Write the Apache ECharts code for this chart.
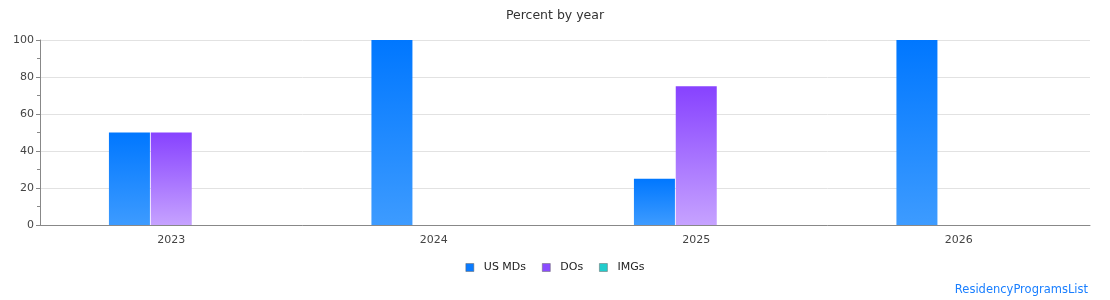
<!DOCTYPE html>
<html>
<head>
<meta charset="utf-8">
<script src="https://cdn.jsdelivr.net/npm/echarts@6/dist/echarts.min.js"></script>
<style>
  html, body { margin: 0; padding: 0; background: #fff; }
  #chart { width: 1110px; height: 300px; }
</style>
</head>
<body>
<div id="chart"></div>
<script>
var years = ['2023', '2024', '2025', '2026'];
var usMDs = [50, 100, 25, 100];
var dos = [50, 0, 75, 0];
var imgs = [0, 0, 0, 0];
var yTicks = [0, 20, 40, 60, 80, 100];

function grad(top, bottom) {
  return new echarts.graphic.LinearGradient(0, 0, 0, 1, [
    { offset: 0, color: top },
    { offset: 1, color: bottom }
  ]);
}

var chart = echarts.init(document.getElementById('chart'), null, { renderer: 'canvas' });
chart.setOption({
  animation: false,
  textStyle: { fontFamily: 'DejaVu Sans' },
  title: {
    text: 'Percent by year',
    left: 'center',
    top: 4,
    textStyle: { fontSize: 12.5, fontWeight: 'normal', color: '#333' }
  },
  graphic: [{
    type: 'text',
    right: 22,
    top: 284,
    style: { text: 'ResidencyProgramsList', fill: '#1a7fff', fontSize: 11.5, fontFamily: 'DejaVu Sans' }
  }],
  legend: {
    top: 257,
    left: 'center',
    itemWidth: 8,
    itemHeight: 8,
    itemGap: 16,
    icon: 'rect',
    textStyle: { fontSize: 11, color: '#222', padding: [0, 0, 0, 5] },
    data: [
      { name: 'US MDs', itemStyle: { color: '#0a7bff', borderColor: '#666', borderWidth: 0.5 } },
      { name: 'DOs', itemStyle: { color: '#8a4cff', borderColor: '#666', borderWidth: 0.5 } },
      { name: 'IMGs', itemStyle: { color: '#22cccc', borderColor: '#666', borderWidth: 0.5 } }
    ]
  },
  grid: { left: 40, right: 20, top: 40, bottom: 75 },
  xAxis: {
    type: 'category',
    data: years,
    axisLine: { lineStyle: { color: '#888' } },
    axisTick: { show: false },
    axisLabel: { color: '#444', fontSize: 11, margin: 10 }
  },
  yAxis: {
    type: 'value',
    min: yTicks[0],
    max: yTicks[yTicks.length - 1],
    interval: 20,
    axisLine: { show: true, lineStyle: { color: '#888' } },
    axisTick: { show: true, length: 4, lineStyle: { color: '#888' } },
    minorTick: { show: true, splitNumber: 2, length: 3, lineStyle: { color: '#888' } },
    axisLabel: { color: '#444', fontSize: 11, margin: 6 },
    splitLine: { lineStyle: { color: '#e2e2e2' } }
  },
  series: [
    {
      name: 'US MDs', type: 'bar', data: usMDs, barWidth: 41, barGap: '2%',
      itemStyle: { color: grad('#0077ff', '#3d9bff') }
    },
    {
      name: 'DOs', type: 'bar', data: dos, barWidth: 41, barGap: '2%',
      itemStyle: { color: grad('#8742ff', '#c6a2ff') }
    },
    {
      name: 'IMGs', type: 'bar', data: imgs, barWidth: 41, barGap: '2%',
      itemStyle: { color: grad('#14c4c4', '#7fe3e3') }
    }
  ]
});
window.addEventListener('resize', function() { chart.resize(); });
</script>
</body>
</html>
